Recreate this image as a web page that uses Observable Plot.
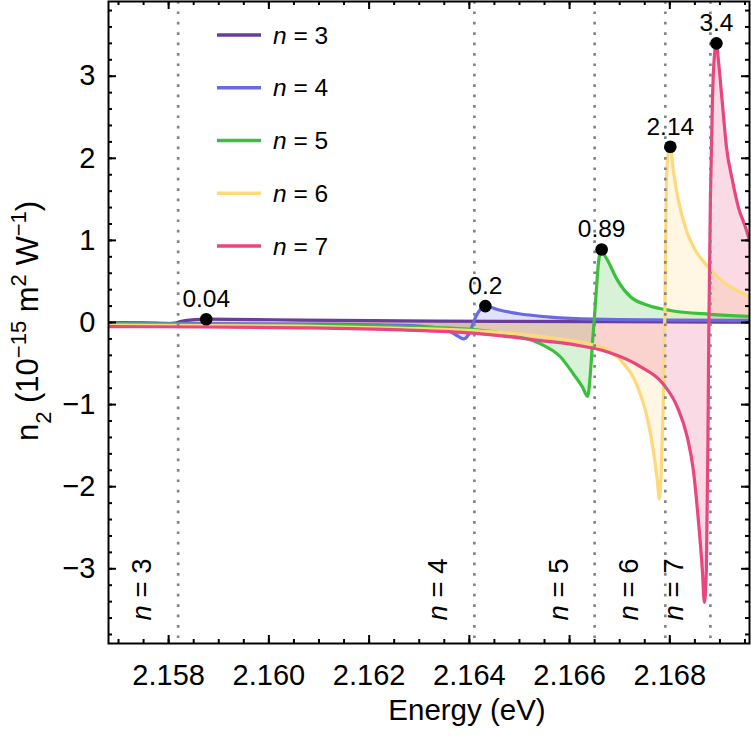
<!DOCTYPE html>
<html>
<head>
<meta charset="utf-8">
<script src="https://cdn.jsdelivr.net/npm/d3@7"></script>
<script src="https://cdn.jsdelivr.net/npm/@observablehq/plot@0.6"></script>
<style>
  body { margin: 0; background: #fff; }
  #chart { width: 751px; height: 743px; }
</style>
</head>
<body>
<div id="chart"></div>
<script>
// ---------- data ----------
const seriesNames = ["n = 3", "n = 4", "n = 5", "n = 6", "n = 7"];
const seriesColors = ["#6a3d9a", "#6a6ae0", "#3cbf3c", "#fed97a", "#e8467c"];

const energyN3 = [2.1568, 2.1575, 2.15803, 2.15813, 2.15823, 2.15833, 2.15853, 2.15875, 2.15923, 2.16063, 2.16263, 2.16463, 2.16648, 2.16801, 2.16959];
const valueN3  = [-0.002, -0.005, -0.012, -0.006, 0.01, 0.022, 0.035, 0.04, 0.039, 0.03, 0.02, 0.014, 0.01, 0.007, 0.005];

const energyN4 = [2.1568, 2.15863, 2.16063, 2.16263, 2.16328, 2.16362, 2.16378, 2.16388, 2.16398, 2.16406, 2.16412, 2.16422, 2.16432, 2.16442, 2.16462, 2.16496, 2.16562, 2.16648, 2.16801, 2.16959];
const valueN4  = [-0.01, -0.012, -0.018, -0.035, -0.06, -0.11, -0.17, -0.2, -0.15, -0.04, 0.06, 0.16, 0.2, 0.185, 0.15, 0.11, 0.065, 0.04, 0.03, 0.025];

const energyN5 = [2.1568, 2.15863, 2.16063, 2.16263, 2.16408, 2.16496, 2.16542, 2.16582, 2.16608, 2.16626, 2.16636, 2.16642, 2.16646, 2.1665, 2.16654, 2.16658, 2.16664, 2.1667, 2.16676, 2.16696, 2.16722, 2.16756, 2.16801, 2.16881, 2.16959];
const valueN5  = [-0.017, -0.022, -0.03, -0.05, -0.085, -0.17, -0.26, -0.42, -0.63, -0.79, -0.9, -0.58, -0.22, 0.1, 0.45, 0.75, 0.89, 0.82, 0.755, 0.51, 0.31, 0.21, 0.146, 0.1, 0.075];

const energyN6 = [2.1568, 2.15863, 2.16063, 2.16263, 2.16408, 2.16542, 2.16662, 2.16702, 2.16736, 2.16756, 2.16768, 2.16775, 2.16779, 2.16783, 2.16786, 2.16789, 2.16791, 2.16794, 2.16798, 2.16801, 2.16807, 2.16817, 2.16831, 2.16851, 2.16875, 2.16907, 2.16941, 2.16959];
const valueN6  = [-0.033, -0.038, -0.045, -0.07, -0.1, -0.17, -0.3, -0.46, -0.79, -1.19, -1.6, -1.92, -2.15, -1.8, -1.2, -0.38, 0.6, 1.85, 2.1, 2.14, 1.85, 1.49, 1.16, 0.88, 0.69, 0.49, 0.37, 0.31];

const energyN7 = [2.1568, 2.15863, 2.16063, 2.16263, 2.16408, 2.16542, 2.16608, 2.16676, 2.16742, 2.16787, 2.16815, 2.16835, 2.16847, 2.16857, 2.16865, 2.16869, 2.16873, 2.16876, 2.16878, 2.16881, 2.16885, 2.16889, 2.16893, 2.16897, 2.16905, 2.16913, 2.16925, 2.16937, 2.16951, 2.16959];
const valueN7  = [-0.05, -0.055, -0.065, -0.09, -0.13, -0.22, -0.27, -0.36, -0.54, -0.75, -1.03, -1.4, -1.8, -2.41, -3.02, -3.41, -3.0, -1.5, 0.0, 1.5, 2.7, 3.25, 3.4, 3.19, 2.66, 2.14, 1.73, 1.4, 1.16, 1.0];

const peakEnergy = [2.15875, 2.16432, 2.16664, 2.16801, 2.16893];
const peakValue  = [0.04, 0.2, 0.89, 2.14, 3.4];
const peakLabels = ["0.04", "0.2", "0.89", "2.14", "3.4"];

const resonanceEnergy = [2.15819, 2.1641, 2.1665, 2.16791, 2.16881];
const resonanceLabels = ["n = 3", "n = 4", "n = 5", "n = 6", "n = 7"];

const xDomain = [2.1568, 2.16959];
const yDomain = [-3.91, 3.91];
const xTickLabels = [2.158, 2.160, 2.162, 2.164, 2.166, 2.168];
const yTickLabels = [-3, -2, -1, 0, 1, 2, 3];
const xMinorTicks = d3.range(2.157, 2.1696, 0.0005).map(v => +v.toFixed(4));
const yMinorTicks = d3.range(-3.8, 3.81, 0.2).map(v => +v.toFixed(1));

const xLabel = "Energy (eV)";

// ---------- build ----------
const energies = [energyN3, energyN4, energyN5, energyN6, energyN7];
const values = [valueN3, valueN4, valueN5, valueN6, valueN7];
const rows = [];
seriesNames.forEach((name, i) => energies[i].forEach((e, j) => rows.push({series: name, E: e, v: values[i][j]})));
const peaks = peakEnergy.map((e, i) => ({E: e, v: peakValue[i], label: peakLabels[i]}));
const res = resonanceEnergy.map((e, i) => ({E: e, label: resonanceLabels[i]}));

const FONT = "'Liberation Sans', Arial, Helvetica, sans-serif";
const W = 751, H = 743, ML = 108, MR = 2, MT = 1, MB = 100;
const innerW = W - ML - MR, innerH = H - MT - MB;
const fmtY = d => d < 0 ? "\u2212" + Math.abs(d) : String(d);

const chart = Plot.plot({
  width: W, height: H,
  marginLeft: ML, marginRight: MR, marginTop: MT, marginBottom: MB,
  style: {fontFamily: FONT, fontSize: "24px", color: "#000", background: "#fff", overflow: "visible"},
  x: {domain: xDomain, label: null},
  y: {domain: yDomain, label: null},
  color: {domain: seriesNames, range: seriesColors},
  marks: [
    Plot.areaY(rows, {x: "E", y1: 0, y2: "v", z: "series", fill: "series", fillOpacity: 0.2, curve: "monotone-x", clip: true}),
    Plot.lineY(rows, {x: "E", y: "v", z: "series", stroke: "series", strokeWidth: 3.2, curve: "monotone-x", clip: true}),
    Plot.ruleX(res, {x: "E", stroke: "#858585", strokeWidth: 2.7, strokeDasharray: "2.7,7.7"}),
    Plot.dot(peaks, {x: "E", y: "v", r: 6.3, fill: "#000"}),
    Plot.text(peaks, {x: "E", y: "v", text: "label", dy: -20, fontSize: 24.5}),
    Plot.text(res, {x: "E", text: "label", frameAnchor: "bottom", rotate: -90, textAnchor: "start", dx: -27, dy: -23, fontSize: 27.5}),
    // inward ticks on all four sides
    Plot.tickX(xTickLabels, {x: d => d, insetTop: innerH - 8, stroke: "#000", strokeWidth: 2}),
    Plot.tickX(xTickLabels, {x: d => d, insetBottom: innerH - 8, stroke: "#000", strokeWidth: 2}),
    Plot.tickX(xMinorTicks, {x: d => d, insetTop: innerH - 4, stroke: "#000", strokeWidth: 2}),
    Plot.tickX(xMinorTicks, {x: d => d, insetBottom: innerH - 4, stroke: "#000", strokeWidth: 2}),
    Plot.tickY(yTickLabels, {y: d => d, insetRight: innerW - 8, stroke: "#000", strokeWidth: 2}),
    Plot.tickY(yTickLabels, {y: d => d, insetLeft: innerW - 8, stroke: "#000", strokeWidth: 2}),
    Plot.tickY(yMinorTicks, {y: d => d, insetRight: innerW - 4, stroke: "#000", strokeWidth: 2}),
    Plot.tickY(yMinorTicks, {y: d => d, insetLeft: innerW - 4, stroke: "#000", strokeWidth: 2}),
    Plot.axisX({ticks: xTickLabels, tickSize: 0, tickPadding: 21, tickFormat: d3.format(".3f"), fontSize: 29, label: null}),
    Plot.axisY({ticks: yTickLabels, tickSize: 0, tickPadding: 13, tickFormat: fmtY, fontSize: 29, label: null}),
    Plot.text([xLabel], {text: d => d, frameAnchor: "bottom", dx: 38, dy: 76, fontSize: 29.5}),
    Plot.frame({stroke: "#000", strokeWidth: 2})
  ]
});
document.getElementById("chart").append(chart);

// ---------- text styling: italic n ----------
const svg = d3.select(chart);
svg.selectAll("text").each(function () {
  const m = /^n = (\d)$/.exec(this.textContent);
  if (m) {
    const t = d3.select(this);
    t.text(null);
    t.append("tspan").attr("font-style", "italic").text("n");
    t.append("tspan").text(" = " + m[1]);
  }
});

// ---------- legend ----------
const lg = svg.append("g").attr("font-family", FONT).attr("font-size", 24.5).attr("text-anchor", "start");
seriesNames.forEach((name, i) => {
  const y = 35 + i * 52.75;
  lg.append("line").attr("x1", 217).attr("x2", 261).attr("y1", y).attr("y2", y)
    .attr("stroke", seriesColors[i]).attr("stroke-width", 3.5);
  const t = lg.append("text").attr("x", 273).attr("y", y).attr("dy", "0.35em");
  t.append("tspan").attr("font-style", "italic").text("n");
  t.append("tspan").text(" = " + name.split("= ")[1]);
});

// ---------- y axis title ----------
const yl = svg.append("text")
  .attr("transform", "translate(38,321) rotate(-90)")
  .attr("text-anchor", "middle")
  .attr("font-family", FONT)
  .attr("font-size", 31);
yl.append("tspan").text("n");
yl.append("tspan").attr("font-size", 22).attr("baseline-shift", "sub").text("2");
yl.append("tspan").text(" (10");
yl.append("tspan").attr("font-size", 22).attr("baseline-shift", "super").text("\u221215");
yl.append("tspan").text(" m");
yl.append("tspan").attr("font-size", 22).attr("baseline-shift", "super").text("2");
yl.append("tspan").text(" W");
yl.append("tspan").attr("font-size", 22).attr("baseline-shift", "super").text("\u22121");
yl.append("tspan").text(")");
</script>
</body>
</html>
